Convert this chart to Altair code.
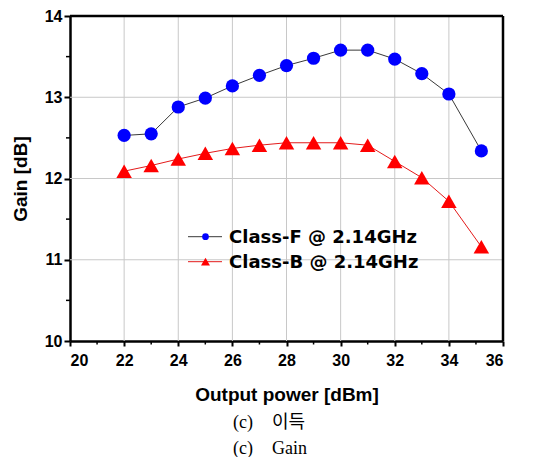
import altair as alt
import pandas as pd

power = [22, 23, 24, 25, 26, 27, 28, 29, 30, 31, 32, 33, 34, 35.2]
class_f = [12.53, 12.55, 12.88, 12.99, 13.14, 13.27, 13.39, 13.48, 13.58, 13.58, 13.47, 13.29, 13.04, 12.34]
class_b = [12.09, 12.16, 12.24, 12.31, 12.37, 12.41, 12.44, 12.44, 12.44, 12.41, 12.21, 12.01, 11.72, 11.16]
series = ["Class-F @ 2.14GHz", "Class-B @ 2.14GHz"]
line_colors = ["#222222", "#e00000"]
mark_colors = ["#0000ff", "#ff0000"]
shapes = ["circle", "triangle-up"]
mark_sizes = [175, 240]
legend_sizes = [45, 80]
x_ticks = [20, 22, 24, 26, 28, 30, 32, 34, 36]
x_minor = [21, 23, 25, 27, 29, 31, 33, 35]
y_ticks = [10, 11, 12, 13, 14]
y_minor = [10.5, 11.5, 12.5, 13.5]
caption_label = "(c)"
captions = ["이득", "Gain"]

W, H = 433, 325

rows = []
for s, vals, lc, mc, sh, sz in zip(series, [class_f, class_b], line_colors, mark_colors, shapes, mark_sizes):
    for p, g in zip(power, vals):
        rows.append({"power": p, "gain": g, "series": s, "lc": lc, "mc": mc, "shape": sh, "sz": sz})
df = pd.DataFrame(rows)

xs = alt.Scale(domain=[20, 36], nice=False, zero=False)
ys = alt.Scale(domain=[10, 14], nice=False, zero=False)

FONT = "Liberation Sans"
SERIF = "Liberation Serif, Noto Sans CJK KR"

x_axis = alt.Axis(values=x_ticks, title="Output power [dBm]", grid=False,
                  domainColor="black", domainWidth=2.5, tickColor="black",
                  tickSize=5, tickWidth=2, labelFont=FONT, labelFontWeight="bold", labelFontSize=16,
                  labelColor="black", labelPadding=6, titleFont=FONT, titleFontWeight="bold",
                  titleFontSize=19, titleColor="black", titlePadding=17, format="d")
y_axis = alt.Axis(values=y_ticks, title="Gain [dB]", grid=False,
                  domainColor="black", domainWidth=2.5, tickColor="black",
                  tickSize=6, tickWidth=2, labelFont=FONT, labelFontWeight="bold", labelFontSize=16,
                  labelColor="black", labelPadding=2, titleFont=FONT, titleFontWeight="bold",
                  titleFontSize=19, titleColor="black", titlePadding=14, format="d")

def X(f):
    return alt.X(f, scale=xs, axis=x_axis)

def Y(f):
    return alt.Y(f, scale=ys, axis=y_axis)

# gridlines
xgrid = alt.Chart(pd.DataFrame({"v": x_ticks[1:-1]})).mark_rule(color="#c8c8c8", strokeWidth=1).encode(
    x=X("v:Q"))
ygrid = alt.Chart(pd.DataFrame({"v": y_ticks[1:-1]})).mark_rule(color="#c8c8c8", strokeWidth=1).encode(
    y=Y("v:Q"))

# frame (top and right)
one = pd.DataFrame({"a": [0]})
frame_top = alt.Chart(one).mark_rule(color="black", strokeWidth=2.5).encode(
    x=alt.value(0), x2=alt.value(W), y=alt.value(0))
frame_right = alt.Chart(one).mark_rule(color="black", strokeWidth=2.5).encode(
    x=alt.value(W), y=alt.value(0), y2=alt.value(H))

base = alt.Chart(df)

lines = base.mark_line(strokeWidth=0.9).encode(
    x=X("power:Q"), y=Y("gain:Q"),
    detail="series:N",
    color=alt.Color("lc:N", scale=None),
)

points = base.mark_point(filled=True, opacity=1).encode(
    x=X("power:Q"), y=Y("gain:Q"),
    color=alt.Color("mc:N", scale=None),
    shape=alt.Shape("shape:N", scale=None),
    size=alt.Size("sz:Q", scale=None),
)

xminor = alt.Chart(pd.DataFrame({"v": x_minor})).mark_rule(color="black", strokeWidth=1.5).encode(
    x=X("v:Q"), y=alt.value(H), y2=alt.value(H + 3.5))
yminor = alt.Chart(pd.DataFrame({"v": y_minor})).mark_rule(color="black", strokeWidth=1.5).encode(
    y=Y("v:Q"), x=alt.value(0), x2=alt.value(-4))

legend_layers = []
row_y = [220.7, 245.7]
for i in range(2):
    ly = row_y[i]
    legend_layers.append(alt.Chart(one).mark_rule(
        color=line_colors[i], strokeWidth=0.9).encode(
        x=alt.value(118), x2=alt.value(152), y=alt.value(ly)))
    legend_layers.append(alt.Chart(one).mark_point(
        filled=True, opacity=1, size=legend_sizes[i], color=mark_colors[i], shape=shapes[i]).encode(
        x=alt.value(135.5), y=alt.value(ly)))
    legend_layers.append(alt.Chart(one).mark_text(
        align="left", baseline="middle", font="DejaVu Sans", fontWeight="bold", fontSize=18,
        color="black").encode(x=alt.value(159), y=alt.value(ly + 1), text=alt.value(series[i])))

cap_layers = []
cap_y = [407, 433]
for i in range(2):
    cap_layers.append(alt.Chart(one).mark_text(
        align="left", baseline="middle", font=SERIF, fontSize=18,
        color="black").encode(x=alt.value(163), y=alt.value(cap_y[i]), text=alt.value(caption_label)))
    cap_layers.append(alt.Chart(one).mark_text(
        align="left", baseline="middle", font=SERIF, fontSize=18,
        color="black").encode(x=alt.value(202), y=alt.value(cap_y[i]), text=alt.value(captions[i])))

chart = alt.layer(xgrid, ygrid, lines, points, xminor, yminor, frame_top, frame_right,
                  *legend_layers, *cap_layers).properties(
    width=W, height=H, autosize="none",
    padding={"left": 62, "top": 8, "right": 31, "bottom": 116},
).configure_view(stroke=None).configure(background="white")

chart.save("out.html", embed_options={"renderer": "svg", "actions": False})
